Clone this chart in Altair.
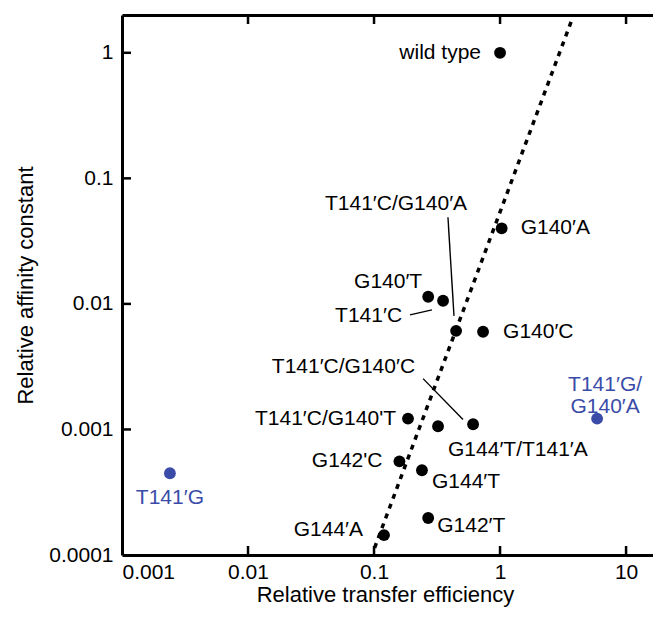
import altair as alt
import pandas as pd

# ---- data ----
labels = ["wild type", "G140′A", "G140′T", "T141′C", "T141′C/G140′A", "G140′C",
          "T141′C/G140′C", "T141′C/G140'T", "G144′T/T141′A", "G142'C", "G144′T",
          "G142′T", "G144′A", "T141′G", "T141′G/\nG140′A"]
transfer = [1.0, 1.03, 0.269, 0.353, 0.448, 0.733, 0.611, 0.186, 0.322, 0.159,
            0.240, 0.269, 0.120, 0.0024, 5.89]
affinity = [1.0, 0.040, 0.0114, 0.0106, 0.0061, 0.0060, 0.0011, 0.00122, 0.00106,
            0.000557, 0.000473, 0.000197, 0.000144, 0.000448, 0.00122]
group = ["main"] * 13 + ["other"] * 2

# trend line end points
trend_x = [0.101, 3.66]
trend_y = [0.000114, 1.76]

# leader lines (from label to point)
lead_x1 = [0.386, 0.193, 0.245]
lead_y1 = [0.049, 0.00818, 0.00254]
lead_x2 = [0.431, 0.288, 0.508]
lead_y2 = [0.00803, 0.00896, 0.0012]

x_ticks = [0.01, 0.1, 1, 10]
y_ticks = [1, 0.1, 0.01, 0.001]

# label placement (align, dx, dy)
label_style = [("right", -19, 0), ("left", 19, 0), ("right", -6, -15),
               ("right", -41, 15), ("right", 11, -127), ("left", 20, 0),
               ("right", -58, -57), ("right", -12, 0), ("left", 10, 24),
               ("right", -17, 0), ("left", 10, 12), ("left", 9, 8),
               ("right", -21, -5), ("center", 0, 25), ("center", 8, -34)]

W_FULL = 542      # full log range 0.001 .. 20 in pixels
W, H = 531, 540   # visible view (right edge runs off the page like the reference)
FONT = "Liberation Sans"
FS = 21
BLUE = "#3a4ca8"

df = pd.DataFrame({"label": labels, "x": transfer, "y": affinity, "group": group})
trend = pd.DataFrame({"x": trend_x, "y": trend_y})
leads = pd.DataFrame({"x": lead_x1, "y": lead_y1, "x2": lead_x2, "y2": lead_y2})
xt = pd.DataFrame({"x": x_ticks})
yt = pd.DataFrame({"y": y_ticks})

xs = alt.Scale(type="log", domain=[0.001, 20], nice=False, range=[0, W_FULL])
ys = alt.Scale(type="log", domain=[0.0001, 2], nice=False)

X = lambda **kw: alt.X("x:Q", scale=xs, **kw)
Y = lambda **kw: alt.Y("y:Q", scale=ys, **kw)

main_axis_common = dict(domainWidth=3, domainColor="black", ticks=False, tickSize=0,
                        labelFont=FONT, labelFontSize=FS, labelColor="black",
                        titleFont=FONT, titleFontSize=22, titleFontWeight="normal",
                        titleColor="black", grid=False)

trend_layer = alt.Chart(trend).mark_line(
    color="black", strokeWidth=3.5, strokeDash=[5, 5.5], strokeCap="butt"
).encode(
    x=X(axis=alt.Axis(title="Relative transfer efficiency", values=[0.001, 0.01, 0.1, 1, 10],
                      format="~g", labelPadding=6, titlePadding=2, titleX=263,
                      **main_axis_common)),
    y=Y(axis=alt.Axis(title="Relative affinity constant",
                      values=[0.0001, 0.001, 0.01, 0.1, 1], format="~g",
                      labelPadding=9, titlePadding=11, **main_axis_common)),
)

lead_layer = alt.Chart(leads).mark_rule(color="black", strokeWidth=1.4).encode(
    x=X(axis=None), y=Y(axis=None), x2="x2:Q", y2="y2:Q"
)

points = alt.Chart(df).mark_circle(size=140, opacity=1).encode(
    x=X(axis=None), y=Y(axis=None),
    color=alt.Color("group:N", scale=alt.Scale(domain=["main", "other"],
                                               range=["black", BLUE]), legend=None),
)

text_layers = []
for lab, (al, dx, dy) in zip(labels, label_style):
    col = BLUE if group[labels.index(lab)] == "other" else "black"
    text_layers.append(
        alt.Chart(df).transform_filter(alt.datum.label == lab).mark_text(
            align=al, baseline="middle", dx=dx, dy=dy, font=FONT, fontSize=FS,
            color=col, lineBreak="\n", lineHeight=22
        ).encode(x=X(axis=None), y=Y(axis=None), text="label:N")
    )

bottom_ticks = alt.Chart(xt).mark_rule(color="black", strokeWidth=2.5).encode(
    x=X(axis=None), y=alt.value(H), y2=alt.value(H - 9)
)
top_ticks = alt.Chart(xt).mark_rule(color="black", strokeWidth=2.5).encode(
    x=X(axis=alt.Axis(orient="top", labels=False, ticks=False, title=None,
                      domainWidth=3, domainColor="black", grid=False)),
    y=alt.value(0), y2=alt.value(9)
)
left_ticks = alt.Chart(yt).mark_rule(color="black", strokeWidth=2.5).encode(
    y=Y(axis=None), x=alt.value(0), x2=alt.value(9)
)

chart = alt.layer(
    trend_layer, lead_layer, points, *text_layers,
    bottom_ticks, top_ticks, left_ticks
).resolve_axis(x="independent", y="independent").properties(
    width=W, height=H,
    autosize=alt.AutoSizeParams(type="none"),
    padding={"left": 114, "top": 7, "right": 0, "bottom": 54},
).configure_view(stroke=None)

chart.save("out.html", embed_options={"renderer": "svg", "actions": False})
